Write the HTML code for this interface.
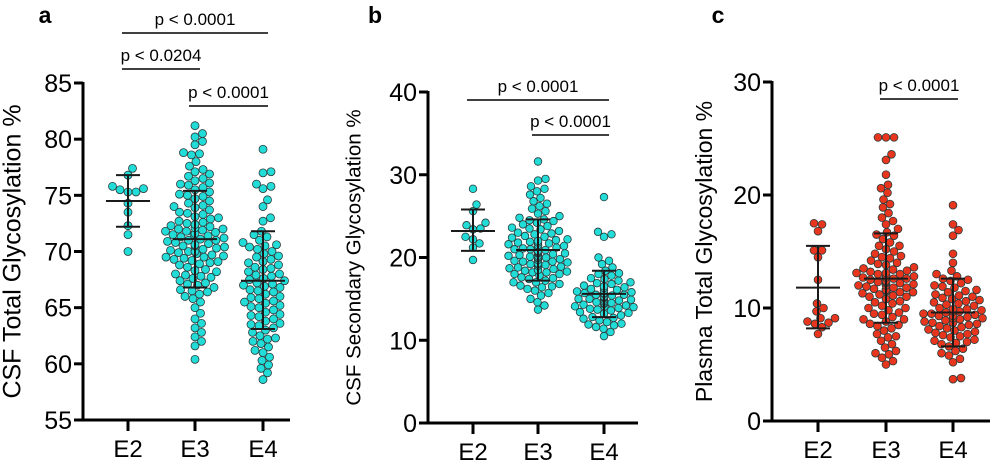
<!DOCTYPE html>
<html><head><meta charset="utf-8"><style>
html,body{margin:0;padding:0;background:#fff;}
svg{display:block;font-family:"Liberation Sans",Arial,sans-serif;}
</style></head><body>
<svg id="chart" width="1000" height="468" viewBox="0 0 1000 468" xmlns="http://www.w3.org/2000/svg"></svg>
<script>
const categories = ["E2","E3","E4"];
// Panel a: CSF Total Glycosylation %
const aE2 = [77.4,76.8,75.6,75.8,75.3,75.5,75.3,74.3,73.5,72.3,71.5,70.0];
const aE3 = [81.2,80.5,80.2,79.8,79.5,78.8,78.7,78.6,78.0,77.6,77.3,77.1,76.9,76.7,76.5,76.3,76.1,75.9,75.7,75.5,75.3,75.1,74.9,74.7,74.5,74.3,74.1,73.9,73.7,73.5,73.3,73.1,72.9,72.7,72.5,72.4,72.3,72.2,72.1,72.0,71.9,71.8,71.7,71.6,71.5,71.4,71.3,71.2,71.1,71.0,70.9,70.8,70.7,70.6,70.5,70.4,70.3,70.2,70.1,70.0,69.9,69.8,69.7,69.6,69.5,69.4,69.3,69.2,69.0,68.8,68.6,68.4,68.2,68.0,67.8,67.6,67.4,67.2,67.0,66.8,66.6,66.4,66.2,66.0,65.8,65.5,65.0,64.5,64.0,63.6,63.2,62.8,62.4,62.0,61.6,60.4,73.0,72.6,72.0,71.5,71.0,70.5,70.0,69.5,68.9,68.3,67.7,67.1,66.5,74.0,75.0,76.0,73.4,71.8,69.1,67.9];
const aE4 = [79.1,77.1,77.0,76.0,75.8,75.6,74.6,74.0,73.0,72.7,71.8,71.3,71.0,70.8,70.6,70.5,70.2,70.0,69.8,69.6,69.3,69.0,68.8,68.6,68.4,68.2,68.0,67.8,67.6,67.5,67.4,67.2,67.0,66.8,66.6,66.4,66.2,66.0,65.8,65.6,65.4,65.2,65.0,64.8,64.6,64.4,64.2,64.0,63.8,63.6,63.4,63.2,63.0,62.8,62.5,62.2,62.0,61.8,61.5,61.2,61.0,60.6,60.3,59.9,59.6,59.2,58.6,70.4,69.5,68.5,67.9,67.1,66.5,65.9,65.1,64.3,63.5,62.3,71.5,69.1,66.9,65.5];
const aMean = [74.5,71.1,67.4];
const aSdLow = [72.2,66.8,63.1];
const aSdHigh = [76.8,75.4,71.8];
const aTicks = [55,60,65,70,75,80,85];
// Panel b: CSF Secondary Glycosylation %
const bE2 = [28.3,26.4,25.6,24.2,23.9,23.5,23.4,22.5,22.2,21.7,21.2,19.7];
const bE3 = [31.6,29.5,29.3,28.6,28.3,28.0,27.6,27.2,26.8,26.5,26.2,25.9,25.6,25.3,25.0,24.8,24.6,24.4,24.2,24.0,23.8,23.6,23.4,23.2,23.0,22.8,22.6,22.4,22.2,22.0,21.9,21.8,21.7,21.6,21.5,21.4,21.3,21.2,21.1,21.0,20.9,20.8,20.7,20.6,20.5,20.4,20.3,20.2,20.1,20.0,19.9,19.8,19.7,19.6,19.5,19.4,19.3,19.2,19.1,19.0,18.9,18.8,18.7,18.6,18.5,18.4,18.3,18.2,18.0,17.8,17.6,17.4,17.2,17.0,16.8,16.6,16.4,16.2,16.0,15.7,15.4,15.0,14.6,14.2,13.7,22.5,22.1,21.5,21.0,20.5,20.0,19.5,19.0,18.5,18.0,17.5,17.0,23.5,24.5,20.2,19.2,21.8,18.2,16.5,22.9];
const bE4 = [27.3,23.1,22.8,22.5,20.0,19.6,19.2,18.8,18.4,18.1,17.8,17.5,17.2,17.0,16.8,16.6,16.4,16.2,16.0,15.9,15.8,15.7,15.6,15.5,15.4,15.3,15.2,15.1,15.0,14.9,14.8,14.7,14.6,14.5,14.4,14.3,14.2,14.1,14.0,13.9,13.8,13.6,13.4,13.2,13.0,12.8,12.6,12.4,12.2,12.0,11.8,11.6,11.4,11.0,10.5,16.5,16.1,15.7,15.3,14.9,14.5,14.1,13.7,17.4,16.9,15.5,14.7,13.3,12.7,11.9,18.0,16.3,15.0];
const bMean = [23.2,20.9,15.6];
const bSdLow = [20.8,17.2,12.8];
const bSdHigh = [25.8,24.6,18.4];
const bTicks = [0,10,20,30,40];
// Panel c: Plasma Total Glycosylation %
const cE2 = [17.5,17.4,16.8,15.1,15.1,14.5,12.5,10.4,10.0,9.7,9.1,9.1,8.8,8.7,8.6,8.3,7.7];
const cE3 = [25.1,25.1,25.1,23.6,23.1,21.8,20.9,20.6,20.2,19.6,19.2,18.9,18.4,18.0,17.7,17.4,17.0,16.7,16.4,16.1,15.8,15.5,15.2,15.0,14.8,14.6,14.4,14.2,14.0,13.8,13.6,13.4,13.3,13.2,13.1,13.0,12.9,12.8,12.7,12.6,12.5,12.4,12.3,12.2,12.1,12.0,11.9,11.8,11.7,11.6,11.5,11.4,11.3,11.2,11.1,11.0,10.8,10.6,10.4,10.2,10.0,9.8,9.6,9.4,9.2,9.0,8.8,8.6,8.4,8.2,8.0,7.7,7.4,7.1,6.8,6.5,6.2,5.9,5.6,5.3,5.0,13.5,13.0,12.6,12.2,11.8,11.4,11.0,10.5,10.0,9.5,14.5,15.5,16.5,12.9,12.3,11.6,13.9,12.0,9.0,8.5,7.5,6.0,12.7,13.1];
const cE4 = [19.1,17.4,16.9,16.4,14.8,14.0,13.3,13.0,12.8,12.6,12.4,12.2,12.0,11.8,11.6,11.4,11.2,11.0,10.8,10.6,10.4,10.2,10.0,9.9,9.8,9.7,9.6,9.5,9.4,9.3,9.2,9.1,9.0,8.9,8.8,8.7,8.6,8.4,8.2,8.0,7.8,7.6,7.4,7.2,7.0,6.8,6.6,6.4,6.2,6.0,5.8,5.5,5.2,3.8,3.7,11.5,11.1,10.7,10.3,9.9,9.5,9.1,8.7,8.3,7.9,7.5,7.1,10.5,9.3,8.1,12.5,11.9,10.9,9.7,8.5,7.7,6.9];
const cMean = [11.8,12.6,9.6];
const cSdLow = [8.2,8.7,6.6];
const cSdHigh = [15.5,16.6,12.6];
const cTicks = [0,10,20,30];
const aP = [["p < 0.0001",0,2],["p < 0.0204",0,1],["p < 0.0001",1,2]];
const bP = [["p < 0.0001",0,2],["p < 0.0001",1,2]];
const cP = [["p < 0.0001",1,2]];

const NS = "http://www.w3.org/2000/svg";
const svg = document.getElementById("chart");
function mk(tag, attrs, parent){ const e=document.createElementNS(NS,tag); for(const k in attrs) e.setAttribute(k,attrs[k]); (parent||svg).appendChild(e); return e; }

const panels = [
 {id:"a", groups:[aE2,aE3,aE4], mean:aMean, lo:aSdLow, hi:aSdHigh, ticks:aTicks, p:aP,
  ax:83, axEnd:290, y0:420, y1:83, vmin:55, vmax:85, xs:[128,195,263], fill:"#22dcd8",
  title:"CSF Total Glycosylation %", titleX:14, titleSize:25, labelX:45,
  pY:[33,69,106], r:4.0},
 {id:"b", groups:[bE2,bE3,bE4], mean:bMean, lo:bSdLow, hi:bSdHigh, ticks:bTicks, p:bP,
  ax:428, axEnd:638, y0:423, y1:92, vmin:0, vmax:40, xs:[473,538,604], fill:"#22dcd8",
  title:"CSF Secondary Glycosylation %", titleX:355, titleSize:20.5, labelX:375,
  pY:[100,135], r:3.8},
 {id:"c", groups:[cE2,cE3,cE4], mean:cMean, lo:cSdLow, hi:cSdHigh, ticks:cTicks, p:cP,
  ax:772, axEnd:990, y0:421, y1:82, vmin:0, vmax:30, xs:[818,886,953], fill:"#e8361e",
  title:"Plasma Total Glycosylation %", titleX:706, titleSize:23, labelX:718,
  pY:[99], r:3.9}
];

panels.forEach(P=>{
  const g = mk("g",{});
  
  
  const yS = v => P.y0 - (v-P.vmin)/(P.vmax-P.vmin)*(P.y0-P.y1);
  const lbl = mk("text",{x:P.labelX,y:23,"font-size":23,"font-weight":"bold","text-anchor":"middle"},g);
  lbl.textContent = P.id;
  
  
  const cy = (P.y0+P.y1)/2;
  const t = mk("text",{x:P.titleX,y:cy,"font-size":P.titleSize,"text-anchor":"middle",transform:`rotate(-90 ${P.titleX} ${cy})`,"dominant-baseline":"middle"},g);
  t.textContent = P.title;
  
  
  P.groups.forEach((vals,gi)=>{
    const cx = P.xs[gi];
    const sorted = vals.slice().sort((a,b)=>a-b);
    const placed=[]; const d=2*P.r*0.98;
    const gg = mk("g",{},g);
    
    
    sorted.forEach(v=>{
      const y=yS(v); let best=0;
      const cands=[0]; for(let k=1;k<60;k++){cands.push(k*0.5,-k*0.5);}
      for(const dx of cands){
        let ok=true;
        for(const p of placed){ const ddx=p[0]-dx, ddy=p[1]-y; if(ddx*ddx+ddy*ddy<d*d){ok=false;break;} }
        if(ok){best=dx;break;}
      }
      placed.push([best,y]);
      const c = mk("circle",{cx:cx+best,cy:y,r:P.r,fill:P.fill,stroke:"#2a3a3a","stroke-width":0.8},gg);
      
      
    });
  });
  P.xs.forEach((cx,gi)=>{
    const e = mk("g",{stroke:"#1a1a1a","stroke-width":2},g);
    
    
    mk("line",{x1:cx,x2:cx,y1:yS(P.lo[gi]),y2:yS(P.hi[gi])},e);
    mk("line",{x1:cx-22,x2:cx+22,y1:yS(P.mean[gi]),y2:yS(P.mean[gi])},e);
    mk("line",{x1:cx-12,x2:cx+12,y1:yS(P.lo[gi]),y2:yS(P.lo[gi])},e);
    mk("line",{x1:cx-12,x2:cx+12,y1:yS(P.hi[gi]),y2:yS(P.hi[gi])},e);
  });
  const yl = mk("line",{x1:P.ax,x2:P.ax,y1:P.y1-1,y2:P.y0+1.5,stroke:"#000","stroke-width":3},g);
   
  const xl = mk("line",{x1:P.ax-1.5,x2:P.axEnd,y1:P.y0,y2:P.y0,stroke:"#000","stroke-width":3},g);
   
  P.ticks.forEach(v=>{
    const y=yS(v);
    mk("line",{x1:P.ax-9,x2:P.ax,y1:y,y2:y,stroke:"#000","stroke-width":3},g);
    const tl = mk("text",{x:P.ax-11,y:y+9,"font-size":25,"text-anchor":"end"},g);
    tl.textContent = v;
     
  });
  P.xs.forEach((cx,gi)=>{
    mk("line",{x1:cx,x2:cx,y1:P.y0,y2:P.y0+11,stroke:"#000","stroke-width":3},g);
    const tl = mk("text",{x:cx,y:P.y0+37,"font-size":24,"text-anchor":"middle"},g);
    tl.textContent = categories[gi];
     
  });
  P.p.forEach((pp,i)=>{
    const y=P.pY[i], x1=P.xs[pp[1]]-6, x2=P.xs[pp[2]]+5;
    const pg = mk("g",{},g);
    
    
    mk("line",{x1:x1,x2:x2,y1:y,y2:y,stroke:"#000","stroke-width":1.6},pg);
    const tx = mk("text",{x:(x1+x2)/2,y:y-8,"font-size":17,"text-anchor":"middle"},pg);
    tx.textContent = pp[0];
  });
});
</script>
</body></html>
